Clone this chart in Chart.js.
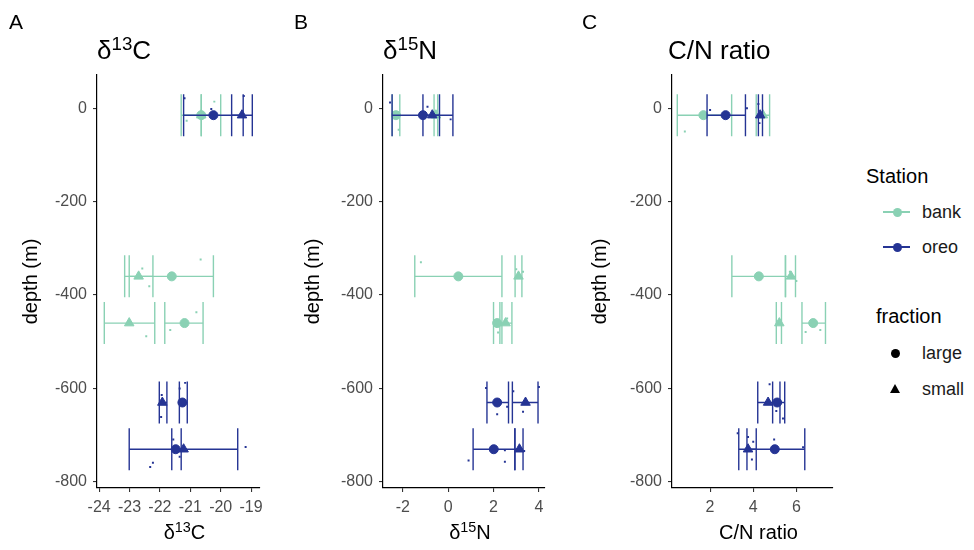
<!DOCTYPE html>
<html>
<head>
<meta charset="utf-8">
<script src="https://cdn.jsdelivr.net/npm/chart.js@4.4.1/dist/chart.umd.min.js"></script>
<style>
  body { margin: 0; width: 974px; height: 550px; background: #fff; position: relative; overflow: hidden;
         font-family: "Liberation Sans", Arial, sans-serif; color: #000; }
  canvas { position: absolute; top: 0; }
  .t { position: absolute; white-space: nowrap; line-height: 1; }
  .t sup, .xt sup { font-size: 0.72em; vertical-align: 0.5em; line-height: 0; }
  .xt { position: absolute; text-align: center; font-size: 20px; line-height: 1; }
  .key { position: absolute; }
</style>
</head>
<body>
<canvas id="pA" width="282" height="550" style="left:0px"></canvas>
<canvas id="pB" width="277" height="550" style="left:290px"></canvas>
<canvas id="pC" width="275" height="550" style="left:580px"></canvas>

<div class="t" style="left:9px;top:11px;font-size:21px">A</div>
<div class="t" style="left:294px;top:11px;font-size:21px">B</div>
<div class="t" style="left:582px;top:11px;font-size:21px">C</div>

<div class="t" style="left:97px;top:37px;font-size:26px">δ<sup>13</sup>C</div>
<div class="t" style="left:383px;top:37px;font-size:26px">δ<sup>15</sup>N</div>
<div class="t" style="left:668px;top:37px;font-size:26px">C/N ratio</div>

<div class="xt" style="left:97px;width:175px;top:522px">δ<sup>13</sup>C</div>
<div class="xt" style="left:383px;width:174px;top:522px">δ<sup>15</sup>N</div>
<div class="xt" style="left:672px;width:173px;top:522px">C/N ratio</div>

<!-- legend -->
<div class="t" style="left:866px;top:166px;font-size:20px">Station</div>
<div class="key" style="left:883px;top:211px;width:27px;height:1.5px;background:#8ad1b4"></div>
<div class="key" style="left:892.5px;top:207.5px;width:9px;height:9px;border-radius:50%;background:#8ad1b4"></div>
<div class="t" style="left:922px;top:203px;font-size:18px;color:#1a1a1a">bank</div>
<div class="key" style="left:883px;top:246px;width:27px;height:1.5px;background:#253494"></div>
<div class="key" style="left:892.5px;top:242.5px;width:9px;height:9px;border-radius:50%;background:#253494"></div>
<div class="t" style="left:922px;top:238px;font-size:18px;color:#1a1a1a">oreo</div>

<div class="t" style="left:876px;top:306px;font-size:20px">fraction</div>
<div class="key" style="left:890.5px;top:348.5px;width:9px;height:9px;border-radius:50%;background:#000"></div>
<div class="t" style="left:922px;top:344px;font-size:18px;color:#1a1a1a">large</div>
<div class="key" style="left:890px;top:384px;width:0;height:0;border-left:5px solid transparent;border-right:5px solid transparent;border-bottom:9px solid #000"></div>
<div class="t" style="left:922px;top:380px;font-size:18px;color:#1a1a1a">small</div>

<script>
// axis ticks
const depthTicks = [0, -200, -400, -600, -800];
const d13cTicks = [-24, -23, -22, -21, -20, -19];
const d15nTicks = [-2, 0, 2, 4];
const cnTicks = [2, 4, 6];

// summary rows: station, fraction, depth, mean, lower, upper
const d13cSummary = [
  ['bank', 'large', -15, -20.64, -21.30, -20.00],
  ['bank', 'small', -15, -20.64, -20.64, -20.64],
  ['oreo', 'large', -15, -20.24, -21.22, -19.26],
  ['oreo', 'small', -15, -19.30, -19.64, -18.96],
  ['bank', 'large', -360, -21.61, -23.01, -20.24],
  ['bank', 'small', -360, -22.70, -23.16, -22.23],
  ['bank', 'large', -460, -21.19, -21.84, -20.58],
  ['bank', 'small', -460, -23.01, -23.83, -22.17],
  ['oreo', 'large', -630, -21.26, -21.36, -21.10],
  ['oreo', 'small', -630, -21.92, -22.02, -21.77],
  ['oreo', 'large', -730, -21.48, -21.61, -21.30],
  ['oreo', 'small', -730, -21.22, -23.01, -19.44]
];
const d15nSummary = [
  ['bank', 'large', -15, -2.30, -2.46, -2.13],
  ['bank', 'small', -15, -0.54, -0.62, -0.46],
  ['oreo', 'large', -15, -1.11, -2.47, 0.21],
  ['oreo', 'small', -15, -0.70, -1.11, -0.38],
  ['bank', 'large', -360, 0.45, -1.47, 2.37],
  ['bank', 'small', -360, 3.10, 2.95, 3.25],
  ['bank', 'large', -460, 2.16, 2.00, 2.37],
  ['bank', 'small', -460, 2.53, 2.28, 2.81],
  ['oreo', 'large', -630, 2.16, 1.71, 2.66],
  ['oreo', 'small', -630, 3.41, 2.83, 3.96],
  ['oreo', 'large', -730, 2.01, 1.10, 2.94],
  ['oreo', 'small', -730, 3.14, 2.94, 3.30]
];
const cnSummary = [
  ['bank', 'large', -15, 1.69, 0.48, 3.00],
  ['bank', 'small', -15, 4.45, 4.14, 4.76],
  ['oreo', 'large', -15, 2.72, 1.86, 3.64],
  ['oreo', 'small', -15, 4.32, 4.24, 4.43],
  ['bank', 'large', -360, 4.26, 3.01, 5.50],
  ['bank', 'small', -360, 5.75, 5.49, 5.96],
  ['bank', 'large', -460, 6.78, 6.26, 7.35],
  ['bank', 'small', -460, 5.21, 5.07, 5.31],
  ['oreo', 'large', -630, 5.11, 4.90, 5.46],
  ['oreo', 'small', -630, 4.69, 4.21, 5.24],
  ['oreo', 'large', -730, 5.00, 3.71, 6.39],
  ['oreo', 'small', -730, 3.76, 3.33, 4.14]
];

// raw (jittered) samples: station, value, depth
const d13cRaw = [
  ['oreo', -21.19, 21], ['bank', -20.21, 14], ['bank', -21.12, -27], ['oreo', -20.31, -2], ['oreo', -19.24, 26],
  ['bank', -22.58, -343], ['bank', -20.66, -324], ['bank', -22.35, -381],
  ['bank', -20.80, -437], ['bank', -21.66, -475], ['bank', -22.45, -488],
  ['oreo', -21.94, -614], ['oreo', -21.96, -661], ['oreo', -21.35, -600], ['oreo', -21.17, -588],
  ['oreo', -21.56, -709], ['oreo', -21.35, -746], ['oreo', -22.23, -759], ['oreo', -22.32, -768], ['oreo', -19.18, -725]
];
const d15nRaw = [
  ['oreo', -2.56, 12], ['bank', -2.18, -46], ['oreo', -0.91, 3], ['oreo', 0.11, -24],
  ['bank', -1.2, -330], ['bank', 3.0, -345], ['bank', 3.3, -350],
  ['bank', 2.2, -480], ['bank', 2.6, -450],
  ['oreo', 1.67, -599], ['oreo', 2.60, -639], ['oreo', 2.16, -655], ['oreo', 2.87, -606], ['oreo', 4.0, -597], ['oreo', 3.30, -650],
  ['oreo', 2.50, -732], ['oreo', 2.50, -757], ['oreo', 0.90, -754], ['oreo', 3.35, -734]
];
const cnRaw = [
  ['bank', 0.83, -50], ['oreo', 2.0, -4], ['oreo', 3.71, 0], ['oreo', 4.29, -32], ['oreo', 4.24, 9],
  ['bank', 5.7, -350], ['bank', 6.0, -370],
  ['bank', 6.43, -479], ['bank', 7.11, -475],
  ['oreo', 4.76, -591], ['oreo', 5.38, -664], ['oreo', 5.07, -648], ['oreo', 4.97, -709], ['oreo', 3.28, -696],
  ['oreo', 4.0, -714], ['oreo', 3.94, -752], ['oreo', 6.31, -726], ['oreo', 3.76, -704]
];

const stationColors = { bank: '#8ad1b4', oreo: '#253494' };

function buildDatasets(summary, raw) {
  const datasets = [];
  ['oreo', 'bank'].forEach((station, si) => {
    const col = stationColors[station];
    summary.filter(r => r[0] === station).forEach(r => {
      // mean point
      datasets.push({
        data: [{ x: r[3], y: r[2] }],
        pointStyle: r[1] === 'large' ? 'circle' : 'triangle',
        pointRadius: r[1] === 'large' ? 4.5 : 5.5,
        backgroundColor: col,
        borderColor: col,
        pointBorderWidth: 1,
        order: si * 3
      });
      // horizontal error bar with end caps
      datasets.push({
        data: [{ x: r[4], y: r[2] }, { x: r[5], y: r[2] }],
        showLine: true,
        borderColor: col,
        borderWidth: 1.4,
        pointStyle: 'line',
        rotation: 90,
        pointRadius: 21,
        pointBorderColor: col,
        pointBorderWidth: 1.4,
        order: si * 3 + 1
      });
    });
    datasets.push({
      data: raw.filter(r => r[0] === station).map(r => ({ x: r[1], y: r[2] })),
      pointStyle: 'rect',
      pointRadius: 1.4,
      backgroundColor: col,
      borderWidth: 0,
      order: si * 3 + 2
    });
  });
  return datasets;
}

function makePanel(id, canvasLeft, plotLeft, yTitlePad, xMin, xMax, xTicks, summary, raw) {
  const tickFont = { family: 'Liberation Sans', size: 16 };
  return new Chart(document.getElementById(id), {
    type: 'scatter',
    data: { datasets: buildDatasets(summary, raw) },
    options: {
      responsive: false,
      animation: false,
      events: [],
      layout: { padding: { left: 0, top: 75, right: 10, bottom: 0 } },
      plugins: { legend: { display: false }, tooltip: { enabled: false } },
      scales: {
        x: {
          type: 'linear',
          min: xMin,
          max: xMax,
          afterBuildTicks: s => { s.ticks = xTicks.map(v => ({ value: v })); },
          afterFit: s => { s.height = 62; },
          border: { display: true, color: '#000', width: 1.2 },
          grid: { drawOnChartArea: false, tickLength: 4, tickColor: '#333', lineWidth: 1.1 },
          ticks: { font: tickFont, color: '#4d4d4d', padding: 6, maxRotation: 0 }
        },
        y: {
          type: 'linear',
          min: -813,
          max: 71,
          afterBuildTicks: s => { s.ticks = depthTicks.map(v => ({ value: v })); },
          afterFit: s => { s.width = plotLeft - canvasLeft; },
          border: { display: true, color: '#000', width: 1.2 },
          grid: { drawOnChartArea: false, tickLength: 4, tickColor: '#333', lineWidth: 1.1 },
          ticks: { font: tickFont, color: '#4d4d4d', padding: 6 },
          title: {
            display: true,
            text: 'depth (m)',
            color: '#000',
            font: { family: 'Liberation Sans', size: 20 },
            padding: { top: yTitlePad, bottom: 0 }
          }
        }
      }
    }
  });
}

makePanel('pA', 0, 97, 19, -24.07, -18.72, d13cTicks, d13cSummary, d13cRaw);
makePanel('pB', 290, 383, 11, -2.87, 4.25, d15nTicks, d15nSummary, d15nRaw);
makePanel('pC', 580, 672, 8, 0.235, 7.68, cnTicks, cnSummary, cnRaw);
</script>
</body>
</html>
